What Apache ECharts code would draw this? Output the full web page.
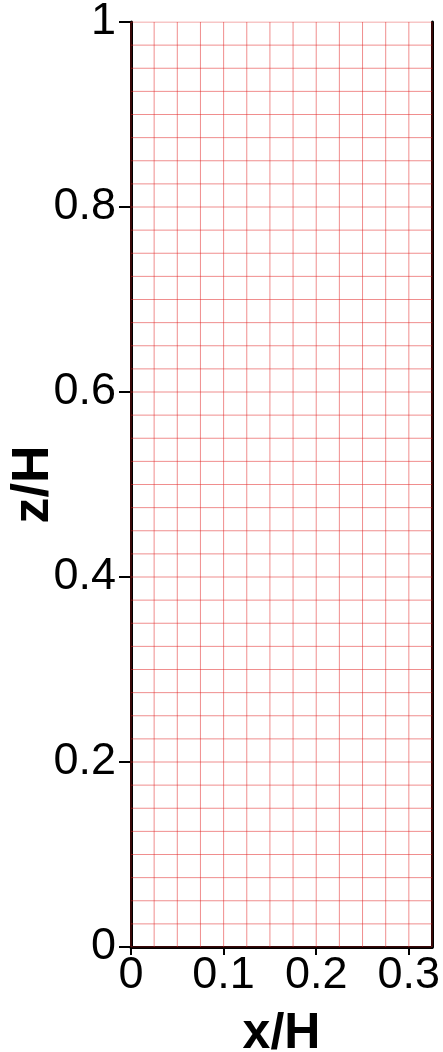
<!DOCTYPE html>
<html>
<head>
<meta charset="utf-8">
<script src="https://cdn.jsdelivr.net/npm/echarts@6/dist/echarts.min.js"></script>
<style>
  html, body { margin: 0; padding: 0; background: #fff; }
  #chart { width: 443px; height: 1052px; }
</style>
</head>
<body>
<div id="chart"></div>
<script>
// Mesh node positions along x/H (vertical grid lines)
const xNodes = [0, 0.025, 0.05, 0.075, 0.1, 0.125, 0.15, 0.175, 0.2, 0.225, 0.25, 0.275, 0.3, 0.325];
// Mesh node positions along z/H (horizontal grid lines)
const zNodes = [
  0, 0.025, 0.05, 0.075, 0.1, 0.125, 0.15, 0.175, 0.2, 0.225,
  0.25, 0.275, 0.3, 0.325, 0.35, 0.375, 0.4, 0.425, 0.45, 0.475,
  0.5, 0.525, 0.55, 0.575, 0.6, 0.625, 0.65, 0.675, 0.7, 0.725,
  0.75, 0.775, 0.8, 0.825, 0.85, 0.875, 0.9, 0.925, 0.95, 0.975, 1
];
// Axis tick labels
const xTicks = [0, 0.1, 0.2, 0.3];
const zTicks = [0, 0.2, 0.4, 0.6, 0.8, 1];

const xMin = xNodes[0], xMax = xNodes[xNodes.length - 1];
const zMin = zNodes[0], zMax = zNodes[zNodes.length - 1];

const meshStyle = { color: 'rgba(225, 30, 30, 0.5)', width: 1 };
function meshLine(points) {
  return {
    type: 'line',
    data: points,
    symbol: 'none',
    silent: true,
    z: 1,
    lineStyle: meshStyle,
    itemStyle: { color: meshStyle.color }
  };
}

const series = [];
xNodes.forEach(x => series.push(meshLine([[x, zMin], [x, zMax]])));
zNodes.forEach(z => series.push(meshLine([[xMin, z], [xMax, z]])));

const font = "'Liberation Sans', Arial, sans-serif";
const chart = echarts.init(document.getElementById('chart'), null, { renderer: 'canvas' });

chart.setOption({
  animation: false,
  backgroundColor: '#fff',
  grid: { left: 131, right: 11, top: 22, bottom: 105, containLabel: false, outerBoundsMode: 'none' },
  xAxis: {
    type: 'value',
    min: xMin, max: xMax,
    name: 'x/H',
    nameLocation: 'middle',
    nameGap: 62,
    nameMoveOverlap: false,
    nameTextStyle: { fontFamily: font, fontWeight: 'bold', fontSize: 50, color: '#000' },
    axisLine: { show: true, lineStyle: { color: '#000', width: 3 } },
    axisTick: { show: true, inside: false, length: 8, lineStyle: { color: '#000', width: 2 }, customValues: xTicks },
    axisLabel: { show: true, margin: 6, fontFamily: font, fontSize: 45, color: '#000', customValues: xTicks },
    splitLine: { show: false }
  },
  yAxis: [{
    type: 'value',
    min: zMin, max: zMax,
    position: 'left',
    name: 'z/H',
    nameLocation: 'middle',
    nameGap: 71,
    nameRotate: 90,
    nameMoveOverlap: false,
    nameTextStyle: { fontFamily: font, fontWeight: 'bold', fontSize: 52, color: '#000' },
    axisLine: { show: true, lineStyle: { color: '#000', width: 3 } },
    axisTick: { show: true, inside: false, length: 12, lineStyle: { color: '#000', width: 2 }, customValues: zTicks },
    axisLabel: { show: true, margin: 15, fontFamily: font, fontSize: 45, color: '#000', customValues: zTicks },
    splitLine: { show: false }
  }, {
    type: 'value',
    min: zMin, max: zMax,
    position: 'right',
    axisLine: { show: true, onZero: false, lineStyle: { color: '#000', width: 3 } },
    axisTick: { show: false },
    axisLabel: { show: false },
    splitLine: { show: false }
  }],
  series: series
});
</script>
</body>
</html>
